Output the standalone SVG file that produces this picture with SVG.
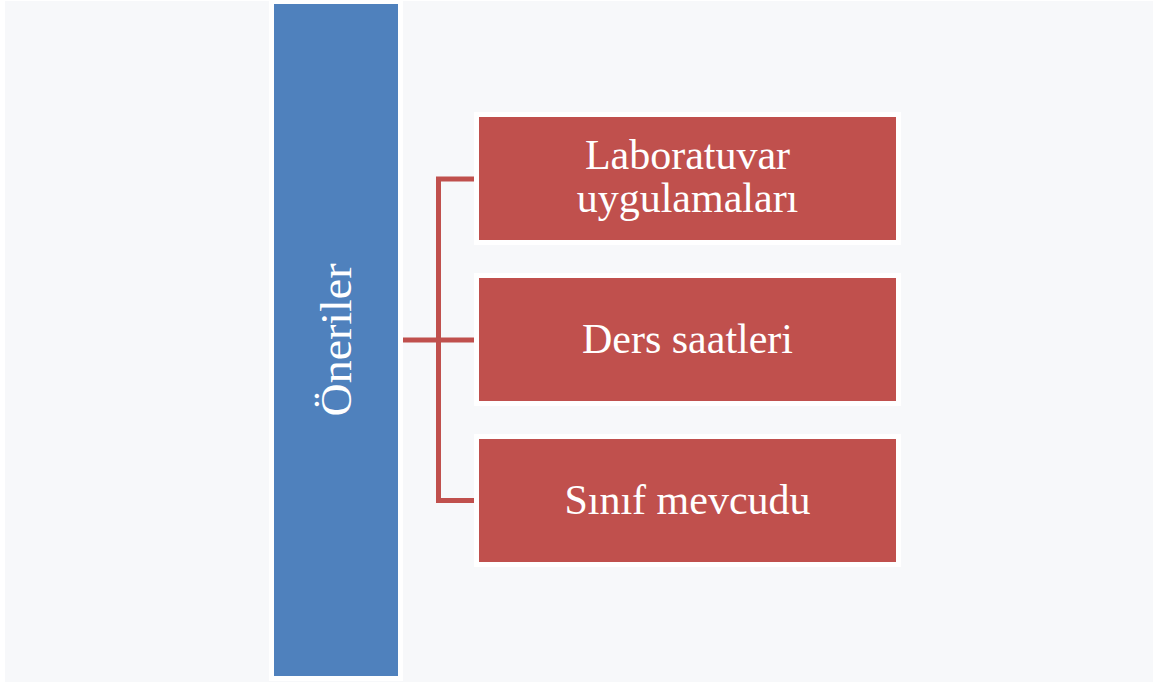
<svg xmlns="http://www.w3.org/2000/svg" width="1153" height="682" viewBox="0 0 1153 682">
<style>
.bg{fill:#f7f8fa}
.halo{fill:#ffffff}
.main{fill:#4f81bd}
.item{fill:#c0504d}
.lbl{font-family:"Liberation Serif","Times New Roman",serif;font-size:42px;fill:#ffffff;text-anchor:middle}
.conn{fill:none;stroke:#c0504d;stroke-width:5;stroke-linejoin:miter}
</style>
<rect x="0" y="0" width="1153" height="682" fill="#ffffff"/>
<rect class="bg" x="5" y="1" width="1148" height="681"/>
<g id="connectors">
<path class="conn" d="M474 179 H438.5 V500.5 H474"/>
<path class="conn" d="M403 340 H474"/>
</g>
<g id="node-oneriler">
<rect class="halo" x="269" y="0" width="134" height="681"/>
<rect class="main" x="274" y="4" width="124" height="672"/>
<text class="lbl" style="font-size:44px" transform="translate(351 340) rotate(-90)" x="0" y="0" textLength="153" lengthAdjust="spacingAndGlyphs">Öneriler</text>
</g>
<g id="node-lab">
<rect class="halo" x="474" y="112" width="427" height="133"/>
<rect class="item" x="479" y="117" width="417" height="123"/>
<text class="lbl" x="687.5" y="169">Laboratuvar</text>
<text class="lbl" x="687.5" y="211.5">uygulamaları</text>
</g>
<g id="node-ders">
<rect class="halo" x="474" y="273" width="427" height="133"/>
<rect class="item" x="479" y="278" width="417" height="123"/>
<text class="lbl" x="687.5" y="352.5">Ders saatleri</text>
</g>
<g id="node-sinif">
<rect class="halo" x="474" y="434" width="427" height="133"/>
<rect class="item" x="479" y="439" width="417" height="123"/>
<text class="lbl" x="687.5" y="514">Sınıf mevcudu</text>
</g>
</svg>
